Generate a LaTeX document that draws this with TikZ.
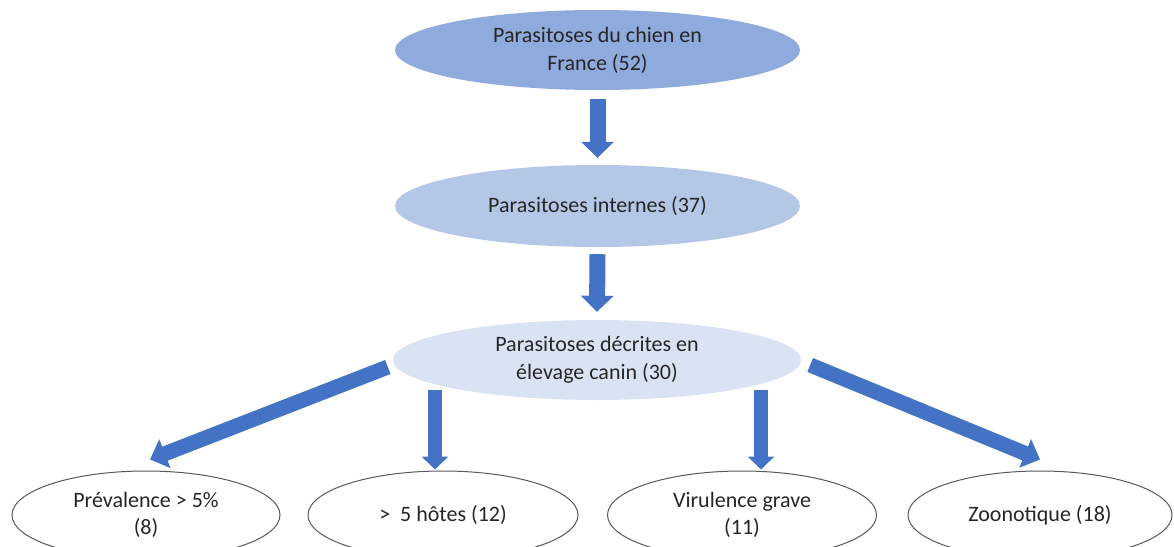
\documentclass[tikz,border=0pt]{standalone}
\usepackage{fontspec}
\setmainfont{Carlito}
\usetikzlibrary{shapes.geometric,arrows.meta,calc}
\definecolor{c1}{HTML}{8FAADC}
\definecolor{c2}{HTML}{B4C7E7}
\definecolor{c3}{HTML}{DAE3F3}
\definecolor{arr}{HTML}{4472C4}
\definecolor{txt}{HTML}{262626}
\definecolor{edge}{HTML}{595959}
\tikzset{
  topell/.style={ellipse, inner sep=0pt, align=center, text=txt, font=\fontsize{22}{28}\selectfont},
  leafell/.style={ellipse, draw=edge, line width=1pt, fill=white, inner sep=0pt, align=center, text=txt,
    minimum height=88pt, font=\fontsize{22}{27}\selectfont},
  bigarrow/.style={draw=arr, line width=16pt, -{Triangle[length=16pt,width=32pt]}},
  diagarrow/.style={draw=arr, line width=15pt, -{Triangle[length=16pt,width=30pt]}},
  smallarrow/.style={draw=arr, line width=14pt, -{Triangle[length=13pt,width=26pt]}},
}
\begin{document}
\begin{tikzpicture}[x=1pt,y=-1pt]
\useasboundingbox (0,0) rectangle (1174,546);
\clip (0,0) rectangle (1174,546);
\fill[white] (0,0) rectangle (1174,546);
\node[topell, fill=c1, minimum width=405pt, minimum height=80pt] (n1) at (597.5,50) {Parasitoses du chien en\\France (52)};
\node[topell, fill=c2, minimum width=405pt, minimum height=82pt] (n2) at (597.5,206) {Parasitoses internes (37)};
\node[topell, fill=c3, minimum width=408pt, minimum height=80pt] (n3) at (597,360) {Parasitoses décrites en\\élevage canin (30)};
\node[leafell, minimum width=268pt] (d1) at (146,515) {Prévalence > 5\%\\(8)};
\node[leafell, minimum width=270pt] (d2) at (443,515) {>\ \ 5 hôtes (12)};
\node[leafell, minimum width=269pt] (d3) at (742,515) {Virulence grave\\(11)};
\node[leafell, minimum width=264pt] (d4) at (1040,515) {Zoonotique (18)};
\draw[bigarrow] ($(n1.south)+(0,9)$) -- ($(n2.north)+(0,-7)$);
\draw[bigarrow] ($(n2.south)+(0,7)$) -- ($(n3.north)+(0,-8)$);
\draw[smallarrow] ($(n3.south)+(-162,-10)$) -- ($(d2.north)+(-8,-1)$);
\draw[smallarrow] ($(n3.south)+(164,-10)$) -- ($(d3.north)+(19,-1)$);
\draw[diagarrow] ($(n3.west)+(-5,7)$) -- ($(d1.north)+(4,-11)$);
\draw[diagarrow] ($(n3.east)+(9,5)$) -- ($(d4.north)+(0,-11)$);
\end{tikzpicture}
\end{document}
